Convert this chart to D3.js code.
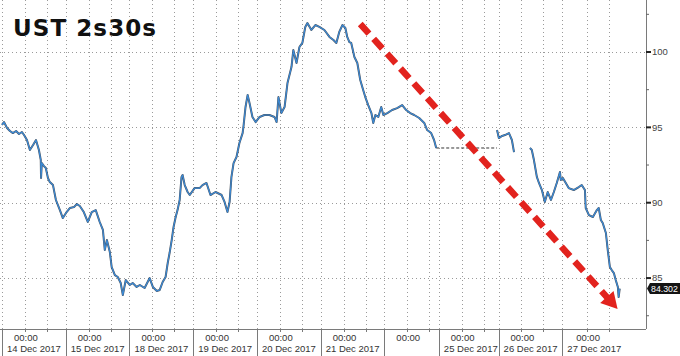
<!DOCTYPE html>
<html>
<head>
<meta charset="utf-8">
<script src="https://cdnjs.cloudflare.com/ajax/libs/d3/7.8.5/d3.min.js"></script>
<style>
  html, body { margin: 0; padding: 0; background: #fff; }
  svg { display: block; }
</style>
</head>
<body>
<svg id="chart" width="680" height="356"></svg>
<script>
// ---------- DATA ----------
const title = "UST 2s30s";

// trading-hour index of each session start (gaps between sessions removed)
const sessionStartHours = [0, 24, 48, 72, 96, 120, 144, 164.5, 187, 211];
const midnightHours = [8.6, 32.6, 56.6, 80.6, 104.6, 128.6, 152.6, 173.1, 195.6, 220.3];
const timeLabels = ["00:00", "00:00", "00:00", "00:00", "00:00", "00:00", "00:00", "00:00", "00:00", "00:00"];
const dateLabels = ["14 Dec 2017", "15 Dec 2017", "18 Dec 2017", "19 Dec 2017", "20 Dec 2017",
                    "21 Dec 2017", "", "25 Dec 2017", "26 Dec 2017", "27 Dec 2017"];

const yMajorTicks = [85, 90, 95, 100];
const yMinorTicks = [82.5, 87.5, 92.5, 97.5, 102.5];

// spread (bp): trading hour / value ; null = no data
const seriesHours = [
  0, 0.75, 1.9, 3.0, 4.1, 5.3, 6.4, 7.5, 8.3, 9.4,
  10.5, 11.7, 12.8, 13.9, 14.6, 14.7, 15.0, 15.8, 16.5, 17.3,
  18.0, 19.2, 20.3, 21.8, 22.9, 24.1, 25.6, 27.1, 28.2, 29.3,
  30.8, 32.3, 33.8, 35.3, 36.8, 38.0, 38.7, 39.5, 40.6, 41.3,
  42.5, 43.6, 44.7, 45.5, 46.6, 48.1, 49.2, 50.7, 51.9, 53.7,
  55.6, 56.8, 58.3, 59.4, 60.5, 61.6, 62.4, 63.1, 63.9, 64.6,
  65.4, 66.1, 66.9, 67.6, 68.0, 68.8, 69.9, 70.7, 72.5, 74.4,
  75.5, 77.0, 78.5, 80.4, 82.7, 83.8, 84.9, 85.7, 86.4, 87.2,
  88.3, 89.4, 90.6, 90.9, 91.7, 92.5, 93.2, 94.3, 95.5, 97.0,
  98.8, 100.7, 102.6, 103.4, 104.1, 105.2, 106.4, 107.5, 109.0, 109.7,
  110.9, 112.0, 113.1, 114.2, 115.0, 116.5, 118.0, 119.5, 121.4, 123.3,
  124.8, 125.9, 127.0, 128.2, 129.3, 130.0, 130.8, 131.5, 132.7, 133.8,
  134.9, 136.0, 136.8, 137.9, 139.1, 139.8, 140.6, 141.7, 142.8, 143.6,
  145.1, 146.9, 148.8, 150.7, 152.2, 153.7, 155.2, 157.1, 159.0, 160.1,
  161.6, 162.7, 163.5,
  175,
  186.4, 187.1, 188.3, 189.4, 190.9, 192.0, 192.8,
  196,
  198.8, 199.5, 200.3, 201.4, 202.2, 203.3, 204.4, 205.5, 206.7, 207.8,
  208.9, 210.1, 210.4, 211.2, 212.3, 213.4, 215.3, 217.2, 218.3, 219.5,
  219.8, 221.0, 222.5, 224.0, 224.7, 225.5, 226.2, 227.4, 228.1, 228.9,
  229.6, 230.4, 231.1, 231.9, 232.2, 232.6
];
const seriesValues = [
  95.16, 95.35, 94.96, 94.76, 94.62, 94.76, 94.56, 94.69, 94.49, 94.16,
  93.50, 93.83, 94.16, 93.50, 92.83, 91.64, 92.63, 92.43, 92.30, 91.64,
  91.37, 91.17, 90.18, 89.51, 88.98, 89.32, 89.65, 89.71, 89.91, 89.78,
  89.38, 88.72, 89.38, 89.51, 88.72, 88.19, 86.86, 87.52, 86.73, 85.73,
  85.20, 85.07, 84.67, 83.87, 84.87, 84.54, 84.67, 84.41, 84.54, 84.34,
  85.00, 84.41, 84.14, 84.21, 84.74, 85.07, 86.00, 86.66, 87.52, 88.39,
  89.05, 89.51, 90.18, 91.71, 91.84, 91.17, 90.71, 90.51, 90.97, 90.97,
  91.17, 91.31, 90.51, 90.71, 90.51, 90.05, 89.38, 90.05, 91.71, 92.63,
  93.03, 93.96, 94.62, 95.02, 96.35, 97.15, 96.62, 95.69, 95.35, 95.69,
  95.82, 95.82, 95.69, 95.35, 97.01, 95.95, 96.35, 97.94, 99.00, 100.13,
  99.27, 100.33, 100.60, 101.66, 101.92, 101.46, 101.79, 101.66, 101.46, 101.00,
  100.80, 100.60, 101.33, 101.79, 101.59, 101.00, 100.66, 100.60, 99.67, 99.27,
  98.14, 97.48, 97.01, 96.48, 95.95, 95.29, 95.82, 95.69, 96.35, 95.82,
  95.95, 96.15, 96.28, 96.48, 96.15, 95.95, 95.82, 95.62, 95.29, 94.82,
  94.62, 94.16, 93.63,
  null,
  94.82, 94.29, 94.43, 94.49, 94.62, 94.16, 93.36,
  null,
  93.63, 93.50, 92.83, 91.71, 91.31, 90.84, 90.05, 90.71, 90.18, 90.71,
  91.31, 92.04, 91.51, 91.64, 91.31, 90.97, 90.84, 91.04, 91.17, 90.84,
  89.65, 89.18, 89.05, 89.51, 89.65, 88.85, 88.65, 87.99, 86.86, 85.73,
  85.53, 85.33, 84.87, 84.41, 83.74, 84.302
];
// holiday stretch shown as a dashed flat line (hours)
const holidayGapHours = [163.5, 186.4];
const lastValue = 84.302;

// trend annotation (hour, value)
const arrowStart = [134.9, 101.86];
const arrowEnd = [231.8, 82.95];

// ---------- LAYOUT ----------
const W = 680, H = 356;
const plot = { left: 0, right: 646, top: 0, bottom: 329 };

const svg = d3.select("#chart");
const x = d3.scaleLinear().domain([0, 242.5]).range([2, plot.right]);
const y = d3.scaleLinear().domain([81.62, 103.45]).range([plot.bottom, plot.top]);

svg.append("rect").attr("width", W).attr("height", H).attr("fill", "#fff");

const defs = svg.append("defs");
defs.append("clipPath").attr("id", "clip").append("rect")
  .attr("x", plot.left).attr("y", plot.top)
  .attr("width", plot.right - plot.left).attr("height", plot.bottom - plot.top);

const grid = svg.append("g").attr("clip-path", "url(#clip)");

// vertical dotted gridlines: session starts, midnights, +8h
const vLines = [];
sessionStartHours.forEach(h => vLines.push(h));
midnightHours.forEach(h => { vLines.push(h); vLines.push(h + 8.3); });
grid.selectAll("line.vg").data(vLines).join("line")
  .attr("class", "vg")
  .attr("x1", d => Math.round(x(d)) + 0.5).attr("x2", d => Math.round(x(d)) + 0.5)
  .attr("y1", plot.top).attr("y2", plot.bottom)
  .attr("stroke", "#9a9a9a").attr("stroke-width", 1).attr("stroke-dasharray", "1,3");

// horizontal dotted gridlines
grid.selectAll("line.hg").data(yMajorTicks).join("line")
  .attr("class", "hg")
  .attr("x1", plot.left).attr("x2", plot.right)
  .attr("y1", d => Math.round(y(d)) + 0.5).attr("y2", d => Math.round(y(d)) + 0.5)
  .attr("stroke", "#9a9a9a").attr("stroke-width", 1).attr("stroke-dasharray", "1,3");

// ---------- SERIES ----------
const pts = seriesHours.map((h, i) => ({ h, v: seriesValues[i] }));
const line = d3.line().defined(d => d.v != null).x(d => x(d.h)).y(d => y(d.v));

const series = svg.append("g").attr("clip-path", "url(#clip)");
// holiday flat dashed line
const gapVal = seriesValues[seriesHours.indexOf(holidayGapHours[0])];
series.append("line")
  .attr("x1", x(holidayGapHours[0])).attr("x2", x(holidayGapHours[1]))
  .attr("y1", y(gapVal)).attr("y2", y(gapVal))
  .attr("stroke", "#333").attr("stroke-width", 1).attr("stroke-dasharray", "3,2");

series.append("path").datum(pts)
  .attr("d", line).attr("fill", "none")
  .attr("stroke", "#111a26").attr("stroke-width", 2).attr("stroke-linejoin", "round")
  .attr("opacity", 0.75);
series.append("path").datum(pts)
  .attr("d", line).attr("fill", "none")
  .attr("stroke", "#3b8ad6").attr("stroke-width", 1.2).attr("stroke-linejoin", "round");

// ---------- AXES ----------
// right axis
svg.append("line").attr("x1", plot.right + 0.5).attr("x2", plot.right + 0.5)
  .attr("y1", 0).attr("y2", plot.bottom).attr("stroke", "#7a7a7a");
svg.selectAll("line.ymaj").data(yMajorTicks).join("line")
  .attr("class", "ymaj")
  .attr("x1", plot.right).attr("x2", plot.right + 5)
  .attr("y1", d => y(d)).attr("y2", d => y(d))
  .attr("stroke", "#222").attr("stroke-width", 2);
svg.selectAll("line.ymin").data(yMinorTicks).join("line")
  .attr("class", "ymin")
  .attr("x1", plot.right).attr("x2", plot.right + 3)
  .attr("y1", d => y(d)).attr("y2", d => y(d))
  .attr("stroke", "#666").attr("stroke-width", 1);
svg.selectAll("text.ylab").data(yMajorTicks).join("text")
  .attr("class", "ylab")
  .attr("x", plot.right + 6).attr("y", d => y(d))
  .attr("dy", "0.35em")
  .attr("font-family", "Liberation Sans, Arial, sans-serif").attr("font-size", 9.5)
  .attr("fill", "#444")
  .text(d => d);

// last value tag
const ty = y(lastValue);
svg.append("path")
  .attr("d", `M${plot.right + 1},${ty} L${plot.right + 4},${ty - 5.5} L${W},${ty - 5.5} L${W},${ty + 5.5} L${plot.right + 4},${ty + 5.5} Z`)
  .attr("fill", "#141414");
svg.append("text")
  .attr("x", plot.right + 5).attr("y", ty).attr("dy", "0.35em")
  .attr("font-family", "Liberation Sans, Arial, sans-serif").attr("font-size", 8.8)
  .attr("fill", "#fff").text(d3.format(".3f")(lastValue));

// bottom axis
svg.append("line").attr("x1", plot.left).attr("x2", plot.right)
  .attr("y1", plot.bottom + 0.5).attr("y2", plot.bottom + 0.5).attr("stroke", "#7a7a7a");
svg.selectAll("line.sep").data(sessionStartHours).join("line")
  .attr("class", "sep")
  .attr("x1", d => Math.round(x(d)) + 0.5).attr("x2", d => Math.round(x(d)) + 0.5)
  .attr("y1", plot.bottom).attr("y2", H)
  .attr("stroke", "#7a7a7a");
const minorX = [];
midnightHours.forEach(h => { minorX.push(h); minorX.push(h + 8.3); });
svg.selectAll("line.xmin").data(minorX).join("line")
  .attr("class", "xmin")
  .attr("x1", d => Math.round(x(d)) + 0.5).attr("x2", d => Math.round(x(d)) + 0.5)
  .attr("y1", plot.bottom).attr("y2", plot.bottom + 3)
  .attr("stroke", "#7a7a7a");

svg.selectAll("text.tlab").data(midnightHours).join("text")
  .attr("class", "tlab")
  .attr("x", d => x(d) + 1).attr("y", 341)
  .attr("text-anchor", "middle")
  .attr("font-family", "Liberation Sans, Arial, sans-serif").attr("font-size", 9.5)
  .attr("fill", "#333")
  .text((d, i) => timeLabels[i]);
svg.selectAll("text.dlab").data(sessionStartHours).join("text")
  .attr("class", "dlab")
  .attr("x", d => x(d) + 5).attr("y", 352)
  .attr("font-family", "Liberation Sans, Arial, sans-serif").attr("font-size", 9.5)
  .attr("fill", "#333")
  .text((d, i) => dateLabels[i]);

// ---------- ANNOTATIONS ----------
const ax0 = x(arrowStart[0]), ay0 = y(arrowStart[1]);
const ax1 = x(arrowEnd[0]), ay1 = y(arrowEnd[1]);
const dx = ax1 - ax0, dy = ay1 - ay0, len = Math.hypot(dx, dy);
const ux = dx / len, uy = dy / len, px = -uy, py = ux;
const headLen = 16, headW = 9;
const bx = ax1 - ux * headLen, by = ay1 - uy * headLen;
svg.append("line")
  .attr("x1", ax0).attr("y1", ay0).attr("x2", bx + ux * 2).attr("y2", by + uy * 2)
  .attr("stroke", "#e2231e").attr("stroke-width", 6.5).attr("stroke-dasharray", "13,7");
svg.append("path")
  .attr("d", `M${ax1},${ay1} L${bx + px * headW},${by + py * headW} L${bx - px * headW},${by - py * headW} Z`)
  .attr("fill", "#e2231e");

// title
svg.append("text")
  .attr("x", 13).attr("y", 36)
  .attr("font-family", "DejaVu Sans, Verdana, sans-serif").attr("font-weight", "bold")
  .attr("font-size", 23).attr("fill", "#111")
  .attr("textLength", 143).attr("lengthAdjust", "spacing")
  .text(title);
</script>
</body>
</html>
